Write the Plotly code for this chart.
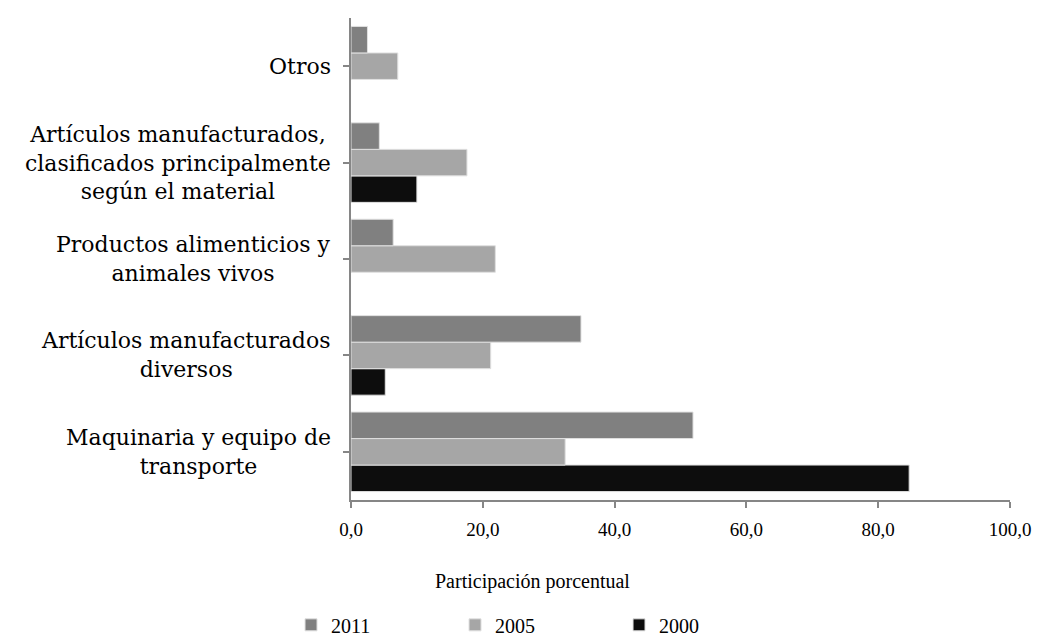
import plotly.graph_objects as go

categories = [
    "Maquinaria y equipo de<br>transporte",
    "Artículos manufacturados<br>diversos",
    "Productos alimenticios y<br>animales vivos",
    "Artículos manufacturados,<br>clasificados principalmente<br>según el material",
    "Otros",
]
years = ["2000", "2005", "2011"]
values_2000 = [84.7, 5.2, None, 10.0, None]
values_2005 = [32.5, 21.2, 21.9, 17.6, 7.1]
values_2011 = [51.9, 34.9, 6.4, 4.3, 2.5]
colors = {"2000": "#0d0d0d", "2005": "#a6a6a6", "2011": "#808080"}
x_ticks = [0, 20, 40, 60, 80, 100]
x_title = "Participación porcentual"

series = {"2000": values_2000, "2005": values_2005, "2011": values_2011}

fig = go.Figure()
for yr in years:
    fig.add_trace(go.Bar(
        y=list(range(len(categories))), x=series[yr], orientation="h", name=yr,
        marker=dict(color=colors[yr], line=dict(color="#e0e0e0", width=1)),
    ))

label_font = dict(family="DejaVu Serif", size=22, color="#000000")
tick_font = dict(family="Liberation Serif", size=19, color="#000000")
small_font = dict(family="Liberation Serif", size=20, color="#000000")
legend_font = dict(family="Liberation Serif", size=20, color="#000000")

for i, c in enumerate(categories):
    fig.add_annotation(x=0, xref="paper", y=i, yref="y", text=c, showarrow=False,
                       xanchor="right", yanchor="middle", align="center",
                       xshift=-18, font=label_font)

fig.add_annotation(x=0.275, xref="paper", y=-0.17, yref="paper", text=x_title,
                   showarrow=False, xanchor="center", yanchor="middle", font=small_font)

fig.update_layout(
    width=1048, height=642,
    margin=dict(l=351, r=38, t=18, b=142, autoexpand=False),
    paper_bgcolor="white", plot_bgcolor="white",
    barmode="group", bargap=0.175, bargroupgap=0,
    separators=",.",
    showlegend=True,
    legend=dict(orientation="h", x=-0.091, xanchor="left", y=-0.2995, yanchor="bottom",
                traceorder="reversed", font=legend_font, entrywidth=119, entrywidthmode="pixels",
                borderwidth=0, bgcolor="rgba(0,0,0,0)"),
    xaxis=dict(range=[0, 100], tickvals=x_ticks, tickformat=".1f", showgrid=False,
               showline=True, linecolor="#868686", linewidth=2, ticks="outside",
               ticklen=6, tickwidth=2, tickcolor="#868686", tickfont=tick_font,
               ticklabelstandoff=5, zeroline=False),
    yaxis=dict(range=[-0.5, 4.5], tickvals=list(range(len(categories))), showticklabels=False,
               showgrid=False, showline=True, linecolor="#868686", linewidth=2,
               ticks="outside", tickson="boundaries", ticklen=6, tickwidth=2,
               tickcolor="#868686", zeroline=False),
)

fig.write_html("out.html", config={"displayModeBar": False},
               post_script="document.body.style.margin='0';")
